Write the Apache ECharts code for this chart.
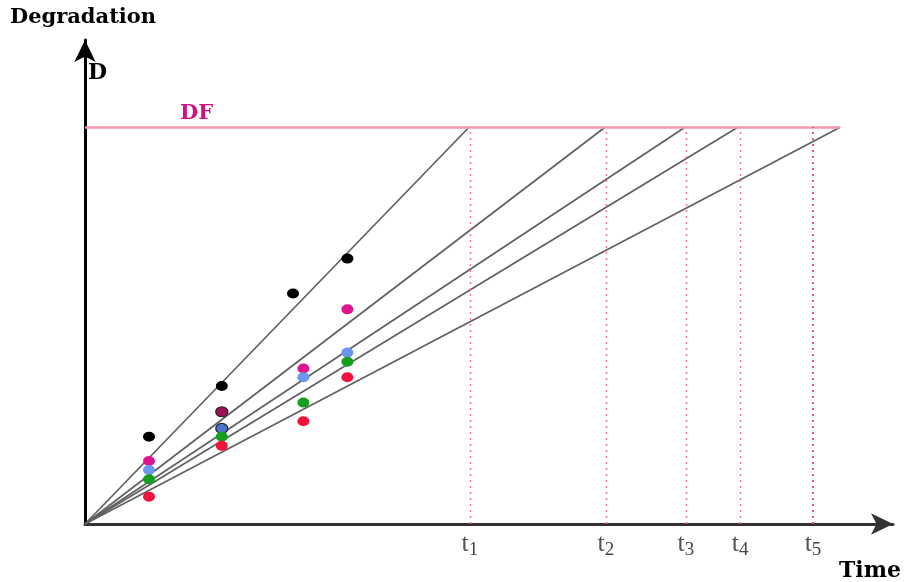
<!DOCTYPE html>
<html>
<head>
<meta charset="utf-8">
<script src="https://cdn.jsdelivr.net/npm/echarts@6/dist/echarts.min.js"></script>
<style>
  html, body { margin: 0; padding: 0; background: #fff; }
  #chart { width: 904px; height: 582px; }
</style>
</head>
<body>
<div id="chart"></div>
<script>
// Failure threshold on the degradation scale
const DF = 100;

// Inspection times of the measured degradation values
const blackTimes = [8.0, 17.1, 26.0, 32.8];
const unitTimes = [8.0, 17.1, 27.3, 32.8];

// Measured degradation per unit
const blackVals = [22.0, 34.8, 58.1, 66.9];
const magentaVals = [15.9, 28.3, 39.2, 54.1];
const blueVals = [13.6, 24.1, 37.0, 43.2];
const greenVals = [11.3, 22.0, 30.6, 40.9];
const redVals = [6.9, 19.7, 25.9, 37.0];

// Time at which each extrapolated degradation path reaches DF
const pathEnds = [48.0, 65.0, 75.0, 81.6, 94.4];

// Pseudo failure times marked on the time axis
const failTimes = [48.1, 65.1, 75.1, 81.9, 91.0];
const failNames = ['1', '2', '3', '4', '5'];

const serif = 'DejaVu Serif';

function pts(times, vals) {
  return times.map((t, i) => [t, vals[i]]);
}

const scatterDefs = [
  { name: 'u1', times: blackTimes, vals: blackVals, color: '#000000' },
  { name: 'u2', times: unitTimes, vals: magentaVals, color: '#e0148c', dark: '#a0105a' },
  { name: 'u3', times: unitTimes, vals: blueVals, color: '#6a96f0', dark: '#4a76d0' },
  { name: 'u4', times: unitTimes, vals: greenVals, color: '#14a01e' },
  { name: 'u5', times: unitTimes, vals: redVals, color: '#f0143c' }
];

const series = [];

// Straight degradation paths from the origin up to the threshold
pathEnds.forEach((te, i) => {
  series.push({
    type: 'line',
    name: 'path' + (i + 1),
    data: [[0, 0], [te, DF]],
    symbol: 'none',
    silent: true,
    lineStyle: { color: '#606060', width: 1.7 },
    z: 2
  });
});

// Measured points
scatterDefs.forEach(d => {
  series.push({
    type: 'scatter',
    name: d.name,
    symbolSize: [12, 10],
    z: 5,
    itemStyle: { color: d.color, opacity: 1 },
    data: pts(d.times, d.vals).map((p, i) => {
      if (i === 1 && d.dark) {
        return { value: p, itemStyle: { color: d.dark, borderColor: '#222', borderWidth: 1.2 } };
      }
      return p;
    })
  });
});

// Threshold line and failure-time drop lines
series.push({
  type: 'line',
  name: 'marks',
  data: [],
  markLine: {
    silent: true,
    symbol: 'none',
    animation: false,
    data: [
      [
        { coord: [0, DF], lineStyle: { color: '#f598ae', width: 2.5, type: 'solid' },
          label: { show: true, formatter: 'DF', position: 'insideStartTop',
                   color: '#d4107e', fontFamily: serif, fontWeight: 'bold', fontSize: 21,
                   padding: [0, 0, 0, 92], distance: 3 } },
        { coord: [pathEnds[pathEnds.length - 1], DF] }
      ]
    ].concat(failTimes.map((t, i) => [
      { coord: [t, 0],
        lineStyle: { color: i === 4 ? '#f0405e' : '#f27590', width: i === 4 ? 1.8 : 1.4, type: [2, 4] },
        label: { show: false } },
      { coord: [t, DF] }
    ]))
  }
});

const chart = echarts.init(document.getElementById('chart'), null, { renderer: 'canvas' });
chart.setOption({
  animation: false,
  backgroundColor: '#ffffff',
  grid: { left: 85, right: 11, top: 40, bottom: 58, containLabel: false },
  xAxis: {
    type: 'value',
    min: 0,
    max: 101,
    name: 'Time',
    nameLocation: 'end',
    nameGap: 8,
    nameTextStyle: {
      fontFamily: serif, fontWeight: 'bold', fontSize: 22, color: '#000',
      align: 'right', verticalAlign: 'top', padding: [36, 0, 0, 0]
    },
    splitLine: { show: false },
    axisLine: {
      show: true,
      lineStyle: { color: '#333', width: 3 },
      symbol: ['none', 'arrow'],
      symbolSize: [16, 22]
    },
    axisTick: { show: false },
    axisLabel: {
      show: true,
      customValues: failTimes,
      margin: 5,
      formatter: v => '{t|t}{s|' + failNames[failTimes.indexOf(v)] + '}',
      rich: {
        t: { fontFamily: 'Liberation Serif', fontSize: 26, color: '#555' },
        s: { fontFamily: 'Liberation Serif', fontSize: 19, color: '#444', padding: [12, 0, 0, 0] }
      }
    }
  },
  yAxis: {
    type: 'value',
    min: 0,
    max: 122,
    name: 'Degradation',
    nameLocation: 'end',
    nameGap: 12,
    nameTextStyle: { fontFamily: serif, fontWeight: 'bold', fontSize: 21, color: '#000', align: 'center', padding: [0, 4, 0, 0] },
    splitLine: { show: false },
    axisLine: {
      show: true,
      lineStyle: { color: '#000', width: 3 },
      symbol: ['none', 'arrow'],
      symbolSize: [16, 22]
    },
    axisTick: { show: false },
    axisLabel: { show: false }
  },
  graphic: [
    { type: 'text', left: 88, top: 62,
      style: { text: 'D', fontFamily: serif, fontWeight: 'bold', fontSize: 22, fill: '#000' } }
  ],
  series: series
});
</script>
</body>
</html>
